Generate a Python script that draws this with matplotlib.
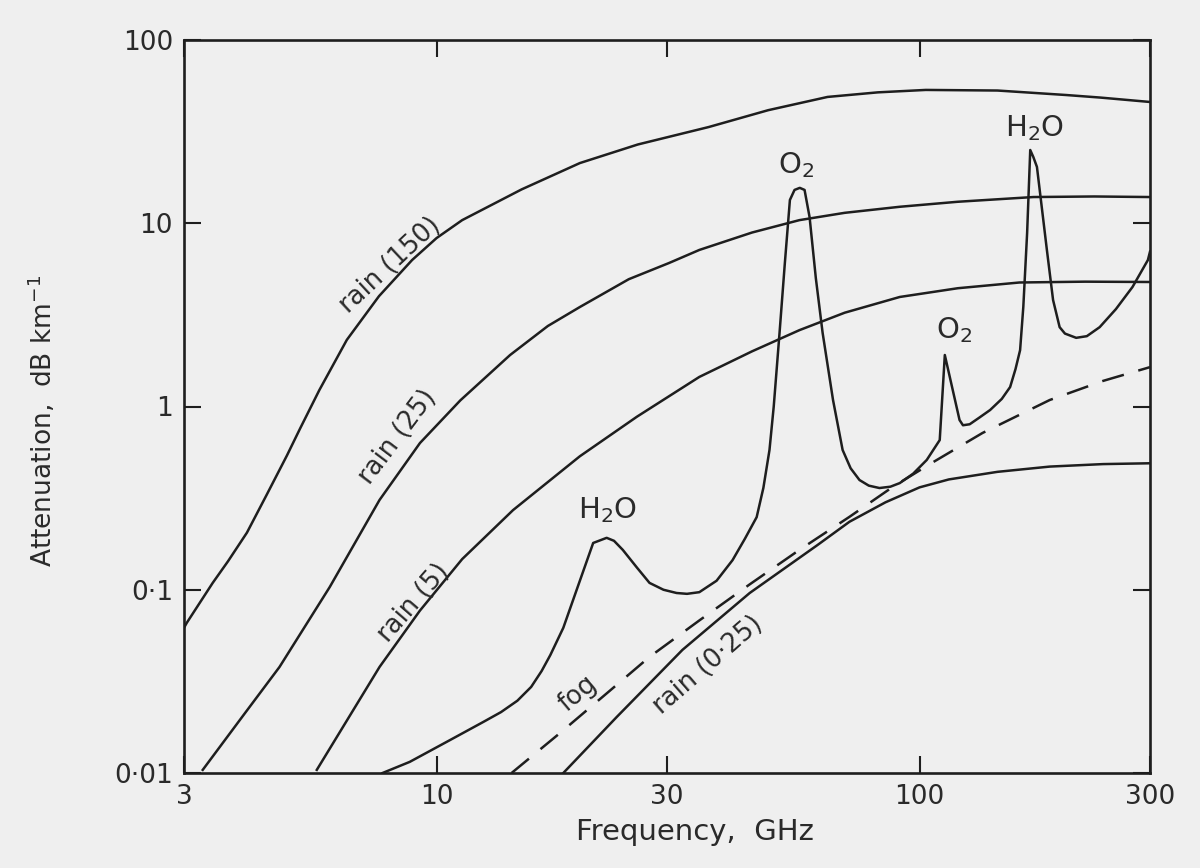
import matplotlib
matplotlib.use("Agg")
import matplotlib.pyplot as plt

# ---- data (frequency GHz, attenuation dB/km) ----
rain150_f = [3.0, 3.04, 3.44, 3.7, 4.05, 4.45, 4.90, 5.22, 5.72, 6.52, 7.6, 8.9, 10.0, 11.3,
             15.0, 19.8, 26.1, 36.6, 48.6, 64.5, 82, 103, 145, 201, 237, 300]
rain150_a = [0.062, 0.066, 0.109, 0.143, 0.205, 0.33, 0.54, 0.76, 1.23, 2.31, 4.0, 6.3, 8.3, 10.4,
             15.3, 21.3, 26.9, 33.5, 41.4, 48.9, 51.8, 53.4, 53.0, 50.1, 48.5, 45.9]

rain25_f = [3.28, 4.0, 4.73, 6.01, 7.62, 9.24, 11.2, 14.2, 17.0, 19.8, 25.0, 30.3, 35.0, 45.0,
            56.4, 70.0, 91.0, 120, 172, 230, 300]
rain25_a = [0.0104, 0.021, 0.0379, 0.1035, 0.309, 0.632, 1.08, 1.91, 2.75, 3.49, 4.95, 6.07, 7.15, 8.9,
            10.4, 11.4, 12.3, 13.1, 13.9, 14.0, 13.9]

rain5_f = [5.65, 7.62, 9.24, 11.3, 14.4, 19.8, 26.0, 35.0, 45.0, 56.4, 70.0, 91.0, 120, 161, 220, 300]
rain5_a = [0.0104, 0.0379, 0.077, 0.147, 0.272, 0.535, 0.88, 1.45, 2.0, 2.61, 3.25, 3.96, 4.42, 4.75, 4.8, 4.78]

rain025_f = [18.3, 23.6, 32.3, 44.5, 61.4, 71.6, 85.0, 100, 115, 145, 186, 240, 300]
rain025_a = [0.010, 0.0202, 0.047, 0.096, 0.175, 0.235, 0.300, 0.362, 0.400, 0.440, 0.470, 0.485, 0.490]

fog_f = [14.3, 18.0, 22.8, 27.6, 35.0, 44.5, 56.4, 71.6, 88.0, 106, 135, 186, 240, 300]
fog_a = [0.010, 0.0165, 0.028, 0.043, 0.068, 0.107, 0.165, 0.250, 0.364, 0.492, 0.717, 1.085, 1.38, 1.64]

gas_f = [7.73, 8.8, 10.65, 12.5, 13.6, 14.7, 15.7, 16.5, 17.2, 18.3, 19.5, 21.1, 22.5, 23.3, 24.3,
         26.0, 27.6, 29.5, 31.4, 33.0,
         35.0, 38.0, 41.0, 43.5, 46.0, 47.5, 48.9, 49.9, 51.3, 52.6, 53.9, 55.1, 56.5, 57.8, 59.2,
         61.0, 63.0, 66.2, 69.3, 72.0, 75.1, 78.5, 82.6, 87.0, 91.0, 97.0, 103.5, 110.1, 112.8,
         115.5, 121, 123, 127, 133, 140, 148, 154, 158, 161.5, 164, 167, 169.5, 172, 175, 183.5,
         189, 195, 200, 211, 222, 236, 255, 276, 297, 300]
gas_a = [0.010, 0.0115, 0.0151, 0.019, 0.0215, 0.0248, 0.0295, 0.036, 0.044, 0.062, 0.0998, 0.180,
         0.192, 0.185, 0.165,
         0.132, 0.109, 0.100, 0.096, 0.095,
         0.097, 0.112, 0.145, 0.190, 0.249, 0.36, 0.579, 1.0, 2.52, 6.0, 13.4, 15.2, 15.6, 15.2, 10.8,
         5.0, 2.52, 1.085, 0.579, 0.46, 0.397, 0.37, 0.359, 0.365, 0.382, 0.43, 0.511, 0.656, 1.91,
         1.45, 0.844, 0.79, 0.80, 0.87, 0.957, 1.1, 1.277, 1.6, 2.03, 3.5, 8.85, 25.1, 23.0, 20.3, 7.15,
         3.81, 2.71, 2.5, 2.37, 2.42, 2.71, 3.4, 4.49, 6.30, 7.0]

x_ticks = [3, 10, 30, 100, 300]
x_ticklabels = ["3", "10", "30", "100", "300"]
y_ticks = [0.01, 0.1, 1, 10, 100]
y_ticklabels = ["0·01", "0·1", "1", "10", "100"]

# labels: (text, freq, atten, rotation)
curve_labels = [
    ("rain (150)", 8.0, 5.9, 43),
    ("rain (25)", 8.3, 0.68, 53),
    ("rain (5)", 8.95, 0.085, 49),
    ("fog", 19.6, 0.0272, 40),
    ("rain (0·25)", 36.5, 0.039, 41),
]
species_labels = [
    ("H$_2$O", 22.6, 0.272),
    ("O$_2$", 55.4, 20.8),
    ("O$_2$", 117.6, 2.61),
    ("H$_2$O", 173, 33.1),
]

# ---- figure ----
bg = "#efefef"
ink = "#1e1e1e"
txtc = "#2a2a2a"
fig = plt.figure(figsize=(12, 8.68), dpi=100, facecolor=bg)
ax = fig.add_axes([184/1200, 1 - 773/868, (1150-184)/1200, (773-40)/868])
ax.set_facecolor(bg)
ax.set_xscale("log")
ax.set_yscale("log")
ax.set_xlim(3, 300)
ax.set_ylim(0.01, 100)

lw = 1.8
ax.plot(rain150_f, rain150_a, color=ink, lw=lw)
ax.plot(rain25_f, rain25_a, color=ink, lw=lw)
ax.plot(rain5_f, rain5_a, color=ink, lw=lw)
ax.plot(rain025_f, rain025_a, color=ink, lw=lw)
ax.plot(fog_f, fog_a, color=ink, lw=lw, dashes=(9, 6))
ax.plot(gas_f, gas_a, color=ink, lw=lw)

for txt, f, a, rot in curve_labels:
    ax.text(f, a, txt, rotation=rot, rotation_mode="anchor", ha="center", va="center",
            fontsize=18.5, color=txtc)
for txt, f, a in species_labels:
    ax.text(f, a, txt, ha="center", va="center", fontsize=21, color=txtc)

ax.minorticks_off()
ax.set_xticks(x_ticks)
ax.set_xticklabels(x_ticklabels)
ax.set_yticks(y_ticks)
ax.set_yticklabels(y_ticklabels)
ax.tick_params(which="major", direction="in", length=12, width=1.5, top=True, right=True,
               labelsize=19, labelcolor=txtc, color=ink, pad=8)
for s in ax.spines.values():
    s.set_linewidth(1.9)
    s.set_color(ink)

ax.set_xlabel("Frequency,  GHz", fontsize=21, color=txtc)
ax.xaxis.set_label_coords(0.529, -0.062)
ax.set_ylabel("Attenuation,  dB km$^{-1}$", fontsize=19, color=txtc)
ax.yaxis.set_label_coords(-0.13, 0.48)

fig.savefig("out.png", dpi=100, facecolor=bg)
